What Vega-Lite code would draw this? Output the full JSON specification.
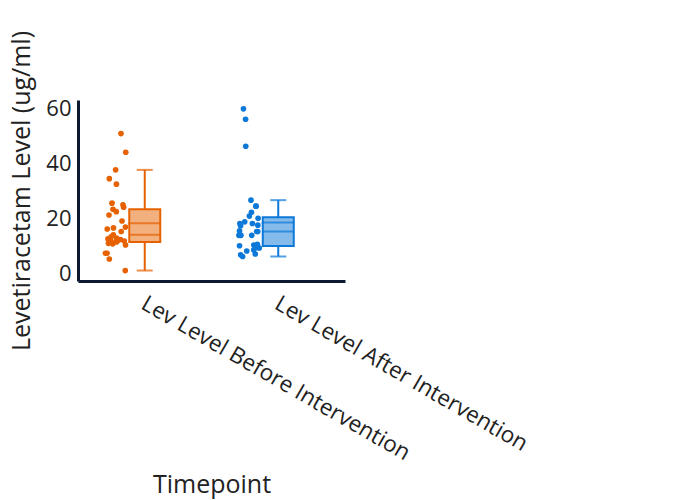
{
  "$schema": "https://vega.github.io/schema/vega-lite/v6.json",
  "width": 267,
  "height": 181,
  "autosize": {"type": "none"},
  "padding": {"left": 78, "top": 100, "right": 355, "bottom": 219},
  "background": "white",
  "config": {"font": "Open Sans", "view": {"stroke": null}},
  "data": {"values": [
    {"timepoint": "Lev Level Before Intervention", "level": 0.5},
    {"timepoint": "Lev Level Before Intervention", "level": 4.7},
    {"timepoint": "Lev Level Before Intervention", "level": 6.8},
    {"timepoint": "Lev Level Before Intervention", "level": 6.8},
    {"timepoint": "Lev Level Before Intervention", "level": 9.8},
    {"timepoint": "Lev Level Before Intervention", "level": 10.2},
    {"timepoint": "Lev Level Before Intervention", "level": 10.4},
    {"timepoint": "Lev Level Before Intervention", "level": 10.6},
    {"timepoint": "Lev Level Before Intervention", "level": 10.9},
    {"timepoint": "Lev Level Before Intervention", "level": 11.2},
    {"timepoint": "Lev Level Before Intervention", "level": 11.4},
    {"timepoint": "Lev Level Before Intervention", "level": 11.6},
    {"timepoint": "Lev Level Before Intervention", "level": 11.8},
    {"timepoint": "Lev Level Before Intervention", "level": 12.0},
    {"timepoint": "Lev Level Before Intervention", "level": 12.3},
    {"timepoint": "Lev Level Before Intervention", "level": 12.8},
    {"timepoint": "Lev Level Before Intervention", "level": 13.5},
    {"timepoint": "Lev Level Before Intervention", "level": 14.7},
    {"timepoint": "Lev Level Before Intervention", "level": 15.6},
    {"timepoint": "Lev Level Before Intervention", "level": 16.0},
    {"timepoint": "Lev Level Before Intervention", "level": 16.3},
    {"timepoint": "Lev Level Before Intervention", "level": 18.5},
    {"timepoint": "Lev Level Before Intervention", "level": 20.7},
    {"timepoint": "Lev Level Before Intervention", "level": 21.9},
    {"timepoint": "Lev Level Before Intervention", "level": 22.8},
    {"timepoint": "Lev Level Before Intervention", "level": 23.5},
    {"timepoint": "Lev Level Before Intervention", "level": 24.4},
    {"timepoint": "Lev Level Before Intervention", "level": 25.0},
    {"timepoint": "Lev Level Before Intervention", "level": 31.9},
    {"timepoint": "Lev Level Before Intervention", "level": 33.9},
    {"timepoint": "Lev Level Before Intervention", "level": 37.1},
    {"timepoint": "Lev Level Before Intervention", "level": 43.5},
    {"timepoint": "Lev Level Before Intervention", "level": 50.3},
    {"timepoint": "Lev Level After Intervention", "level": 5.6},
    {"timepoint": "Lev Level After Intervention", "level": 6.2},
    {"timepoint": "Lev Level After Intervention", "level": 6.5},
    {"timepoint": "Lev Level After Intervention", "level": 7.6},
    {"timepoint": "Lev Level After Intervention", "level": 8.0},
    {"timepoint": "Lev Level After Intervention", "level": 8.7},
    {"timepoint": "Lev Level After Intervention", "level": 8.9},
    {"timepoint": "Lev Level After Intervention", "level": 9.4},
    {"timepoint": "Lev Level After Intervention", "level": 9.5},
    {"timepoint": "Lev Level After Intervention", "level": 9.8},
    {"timepoint": "Lev Level After Intervention", "level": 10.0},
    {"timepoint": "Lev Level After Intervention", "level": 13.3},
    {"timepoint": "Lev Level After Intervention", "level": 13.3},
    {"timepoint": "Lev Level After Intervention", "level": 13.3},
    {"timepoint": "Lev Level After Intervention", "level": 14.7},
    {"timepoint": "Lev Level After Intervention", "level": 14.7},
    {"timepoint": "Lev Level After Intervention", "level": 14.9},
    {"timepoint": "Lev Level After Intervention", "level": 16.8},
    {"timepoint": "Lev Level After Intervention", "level": 17.0},
    {"timepoint": "Lev Level After Intervention", "level": 17.6},
    {"timepoint": "Lev Level After Intervention", "level": 17.6},
    {"timepoint": "Lev Level After Intervention", "level": 18.2},
    {"timepoint": "Lev Level After Intervention", "level": 19.5},
    {"timepoint": "Lev Level After Intervention", "level": 20.3},
    {"timepoint": "Lev Level After Intervention", "level": 21.7},
    {"timepoint": "Lev Level After Intervention", "level": 23.9},
    {"timepoint": "Lev Level After Intervention", "level": 23.9},
    {"timepoint": "Lev Level After Intervention", "level": 26.1},
    {"timepoint": "Lev Level After Intervention", "level": 45.7},
    {"timepoint": "Lev Level After Intervention", "level": 55.5},
    {"timepoint": "Lev Level After Intervention", "level": 59.3}
  ]},
  "encoding": {
    "x": {
      "field": "timepoint", "type": "nominal",
      "sort": ["Lev Level Before Intervention", "Lev Level After Intervention"],
      "scale": {"paddingInner": 0, "paddingOuter": 0},
      "axis": {
        "title": "Timepoint", "titleFontSize": 25, "titleFontWeight": "normal", "titleColor": "#222",
        "titleX": 133.5, "titleY": 211, "titleBaseline": "alphabetic", "titleAlign": "center",
        "labelAngle": 30, "labelAlign": "left", "labelBaseline": "top", "labelFontSize": 22.5,
        "labelColor": "#222", "labelPadding": 11, "labelOffset": 4, "ticks": false,
        "domainColor": "#0b1a30", "domainWidth": 3, "labelLimit": 500
      }
    }
  },
  "layer": [
    {
      "transform": [
        {"window": [{"op": "row_number", "as": "idx"}]},
        {"calculate": "abs(sin(datum.idx*12.9898 + datum.level*78.233)*43758.5453) % 1", "as": "jit"}
      ],
      "mark": {"type": "circle", "size": 32, "opacity": 1},
      "encoding": {
        "xOffset": {"field": "jit", "type": "quantitative", "scale": {"domain": [0, 1], "range": [27, 48]}},
        "y": {
          "field": "level", "type": "quantitative",
          "scale": {"domain": [-3.3, 62.5], "nice": false, "zero": false},
          "axis": {
            "title": "Levetiracetam Level (ug/ml)", "titleFontSize": 25, "titleFontWeight": "normal",
            "titleColor": "#222", "titleAngle": -90, "titleX": -49, "titleY": 90.5,
            "titleAlign": "center", "titleBaseline": "alphabetic",
            "values": [0, 20, 40, 60], "grid": false, "ticks": false,
            "labelFontSize": 22, "labelColor": "#222", "labelPadding": 7, "labelOffset": 2,
            "domainColor": "#0b1a30", "domainWidth": 3
          }
        },
        "color": {"field": "timepoint", "type": "nominal", "legend": null,
          "scale": {"domain": ["Lev Level Before Intervention", "Lev Level After Intervention"], "range": ["#E66100", "#0C78D8"]}}
      }
    },
    {
      "transform": [
        {"joinaggregate": [
          {"op": "q1", "field": "level", "as": "q1"},
          {"op": "q3", "field": "level", "as": "q3"},
          {"op": "median", "field": "level", "as": "med"},
          {"op": "mean", "field": "level", "as": "avg"}
        ], "groupby": ["timepoint"]},
        {"filter": "datum.level >= datum.q1 - 1.5*(datum.q3 - datum.q1) && datum.level <= datum.q3 + 1.5*(datum.q3 - datum.q1)"},
        {"aggregate": [
          {"op": "min", "field": "level", "as": "lo"},
          {"op": "max", "field": "level", "as": "hi"}
        ], "groupby": ["timepoint", "q1", "q3", "med", "avg"]}
      ],
      "encoding": {
        "color": {"field": "timepoint", "type": "nominal", "legend": null,
          "scale": {"domain": ["Lev Level Before Intervention", "Lev Level After Intervention"], "range": ["#E66100", "#0C78D8"]}}
      },
      "layer": [
        {"mark": {"type": "rule", "strokeWidth": 2}, "encoding": {"y": {"field": "lo", "type": "quantitative"}, "y2": {"field": "q1"}}},
        {"mark": {"type": "rule", "strokeWidth": 2}, "encoding": {"y": {"field": "q3", "type": "quantitative"}, "y2": {"field": "hi"}}},
        {"mark": {"type": "tick", "size": 16, "thickness": 2}, "encoding": {"y": {"field": "lo", "type": "quantitative"}}},
        {"mark": {"type": "tick", "size": 16, "thickness": 2}, "encoding": {"y": {"field": "hi", "type": "quantitative"}}},
        {
          "mark": {"type": "bar", "width": 31, "fillOpacity": 0.5, "strokeWidth": 2},
          "encoding": {
            "y": {"field": "q1", "type": "quantitative"}, "y2": {"field": "q3"},
            "fill": {"field": "timepoint", "type": "nominal", "legend": null,
              "scale": {"domain": ["Lev Level Before Intervention", "Lev Level After Intervention"], "range": ["#E66100", "#0C78D8"]}},
            "stroke": {"field": "timepoint", "type": "nominal", "legend": null,
              "scale": {"domain": ["Lev Level Before Intervention", "Lev Level After Intervention"], "range": ["#E66100", "#0C78D8"]}}
          }
        },
        {"mark": {"type": "tick", "size": 31, "thickness": 2}, "encoding": {"y": {"field": "med", "type": "quantitative"}}},
        {"mark": {"type": "tick", "size": 32, "thickness": 0.01, "filled": false, "strokeWidth": 2, "strokeDash": [4, 3]}, "encoding": {"y": {"field": "avg", "type": "quantitative"}}}
      ]
    }
  ]
}
